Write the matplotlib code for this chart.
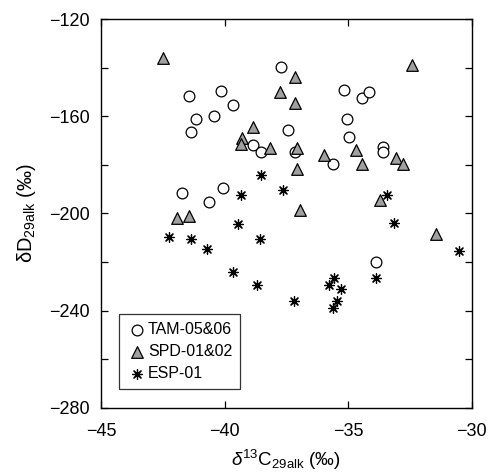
import numpy as np
import matplotlib
matplotlib.use("Agg")
import matplotlib.pyplot as plt

plt.rcParams['font.family'] = ['Liberation Sans', 'DejaVu Sans']
plt.rcParams['mathtext.fontset'] = 'custom'
plt.rcParams['mathtext.rm'] = 'Liberation Sans'
plt.rcParams['mathtext.it'] = 'Liberation Sans:italic'

# data (d13C, dD)
tam_x = [-41.44, -40.14, -39.64, -41.16, -40.44, -41.37, -38.84, -38.54, -37.73,
         -41.73, -40.08, -40.64, -35.17, -34.45, -34.17, -35.03, -37.42, -34.96,
         -37.15, -33.58, -33.58, -35.62, -33.87]
tam_y = [-151.7, -149.5, -155.4, -161.3, -159.9, -166.5, -171.7, -174.6, -139.9,
         -191.6, -189.5, -195.5, -149.4, -152.4, -150.1, -161.2, -165.7, -168.7,
         -174.6, -172.8, -174.6, -179.8, -219.9]

spd_x = [-42.5, -38.84, -39.28, -39.33, -38.15, -37.75, -41.91, -41.45, -37.15,
         -37.15, -32.40, -37.08, -37.08, -35.98, -34.68, -34.45, -33.07, -32.77,
         -36.95, -33.71, -31.45]
spd_y = [-136.0, -164.5, -169.0, -171.5, -173.0, -150.0, -202.0, -201.0, -144.0,
         -154.5, -138.8, -173.0, -181.7, -176.0, -174.0, -179.5, -177.4, -179.5,
         -198.8, -194.4, -208.4]

esp_x = [-38.54, -39.35, -39.47, -37.65, -33.44, -33.14, -42.26, -41.37, -40.72,
         -38.55, -39.66, -38.67, -30.51, -33.87, -35.56, -35.76, -35.29, -37.18,
         -35.46, -35.62]
esp_y = [-184.2, -192.5, -204.3, -190.4, -192.5, -204.1, -209.6, -210.4, -214.8,
         -210.4, -224.3, -229.6, -215.4, -226.6, -226.5, -229.5, -231.0, -236.1,
         -236.0, -239.1]

fig = plt.figure(figsize=(4.89, 4.72), dpi=100)
ax = fig.add_axes([0.2065, 0.1362, 0.758, 0.8235])

ax.scatter(tam_x, tam_y, s=60, marker='o', facecolor='white', edgecolor='black',
           linewidth=0.9, label='TAM-05&06', zorder=3)
ax.scatter(spd_x, spd_y, s=70, marker='^', facecolor='#a0a0a0', edgecolor='black',
           linewidth=0.9, label='SPD-01&02', zorder=3)
ax.scatter(esp_x, esp_y, s=50, marker=(8, 2, 0), facecolor='black', edgecolor='black',
           linewidth=0.9, label='ESP-01', zorder=3)

ax.set_xlim(-45, -30)
ax.set_ylim(-280, -120)
ax.set_xticks([-45, -40, -35, -30])
ax.set_xticklabels(['\u221245', '\u221240', '\u221235', '\u221230'])
ax.set_yticks([-280, -240, -200, -160, -120])
ax.set_yticklabels(['\u2212280', '\u2212240', '\u2212200', '\u2212160', '\u2212120'])
ax.set_yticks(np.arange(-260, -120, 40), minor=True)
ax.tick_params(which='both', direction='in', top=True, right=True, length=5,
               width=0.9, labelsize=13)
ax.tick_params(axis='y', pad=8)
ax.tick_params(axis='x', pad=11)
for sp in ax.spines.values():
    sp.set_linewidth(1.0)

ax.set_xlabel('$\\delta^{13}$C$_{\\mathrm{29alk}}$ (\u2030)', fontsize=13.5, labelpad=6)
ax.set_ylabel('\u03b4D$_{\\mathrm{29alk}}$ (\u2030)', fontsize=14.5, labelpad=8)

leg = ax.legend(loc='lower left', bbox_to_anchor=(0.049, 0.048), fontsize=11.5,
                frameon=True, fancybox=False, handletextpad=0.1, handlelength=1.2,
                borderpad=0.5, labelspacing=0.45, borderaxespad=0)
leg.get_frame().set_edgecolor('black')
leg.get_frame().set_linewidth(0.9)

fig.savefig('out.png', dpi=100)
